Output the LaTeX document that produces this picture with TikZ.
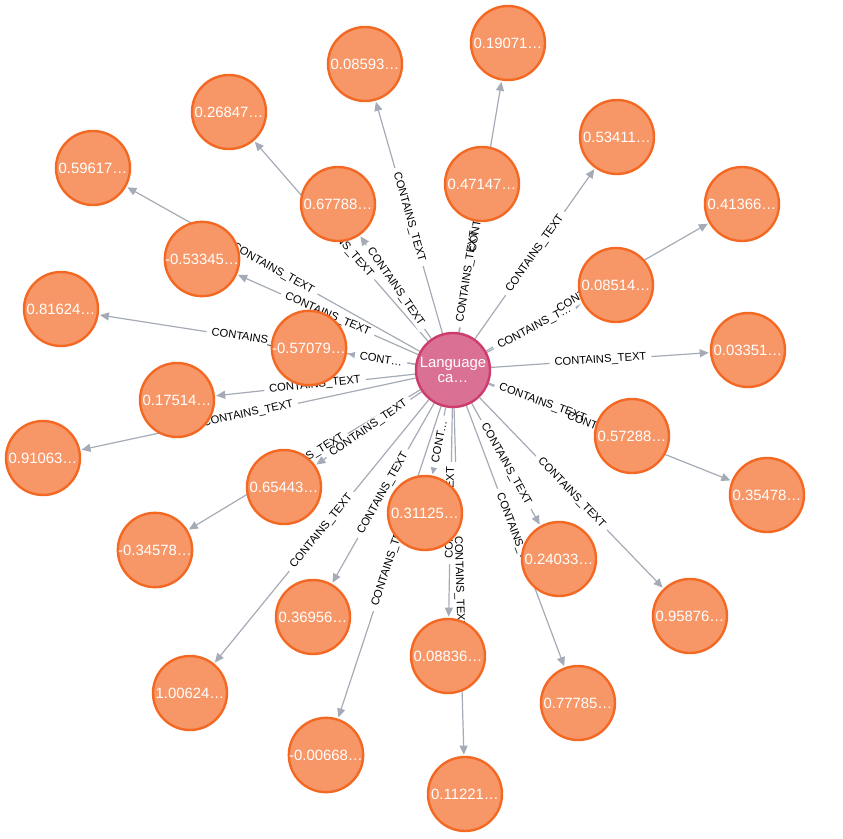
\documentclass[tikz,border=0pt]{standalone}
\usepackage{fontspec}
\setmainfont{Liberation Sans}
\usetikzlibrary{arrows.meta}

\definecolor{textfill}{HTML}{F79767}
\definecolor{textline}{HTML}{F36924}
\definecolor{catfill}{HTML}{DA7194}
\definecolor{catline}{HTML}{CC3C6C}
\definecolor{relline}{HTML}{A5ABB6}

\pgfdeclarelayer{edges}
\pgfsetlayers{edges,main}

\tikzset{
  textnode/.style={circle,fill=textfill,draw=textline,line width=2.4pt,
    minimum size=74pt,inner sep=0pt,text=white,
    font=\fontsize{14.9}{16}\selectfont},
  catnode/.style={textnode,fill=catfill,draw=catline,align=center,
    font=\fontsize{14.9}{15.5}\selectfont},
  rel/.style={relline,line width=1.2pt,->,shorten >=1.2pt},
  relgap/.style={midway,sloped,fill=white,inner xsep=5pt,
    inner ysep=1pt,font=\fontsize{11.2}{13}\selectfont},
  relcap/.style={midway,sloped,inner xsep=5pt,inner ysep=1pt,
    font=\fontsize{11.2}{13}\selectfont},
}

% captions of the connectors, by target node
\def\rellist{
  1/CONTAINS\_TEXT, 2/CONTAINS\_TEXT, 3/CONTAINS\_TEXT,
  4/CONTAINS\_TEXT, 5/CONTAINS\_TEXT, 6/CONTAINS\_TEXT,
  7/CONTAINS\_TEXT, 8/CONTAINS\_TEXT, 9/CONTAINS\_TEXT,
  10/CONTAINS\_T…, 11/CONTAINS\_TEXT, 12/CONT…,
  13/CONTAINS\_TEXT, 14/CONTAINS\_TEXT, 15/CONTAINS\_TEXT,
  16/CONTAINS\_TEXT, 17/CONTAINS\_TEXT, 18/CONTAINS\_TEXT,
  19/CONT…, 20/CONTAINS\_TEXT, 21/CONTAINS\_TEXT,
  22/CONTAINS\_TEXT, 23/CONTAINS\_TEXT, 24/CONTAINS\_TEXT,
  25/CONTAINS\_TEXT, 26/CONTAINS\_TEXT, 27/CONTAINS\_TEXT,
  28/CONTAINS\_TEXT}

\begin{document}
\begin{tikzpicture}[x=1pt,y=-1pt,>={Triangle[length=9pt,width=8pt]},
  line cap=round,line join=round]

  \useasboundingbox (0,0) rectangle (843,838);

  % centre node
  \node[catnode] (lang) at (453,370) {Language\\ca…};

  % text nodes
  \foreach \id/\x/\y/\val in {
      1/365/64/0.08593, 2/508/43/0.19071, 3/229/112/0.26847,
      4/617/137/0.53411, 5/93/168/0.59617, 6/338/204/0.67788,
      7/482/184/0.47147, 8/742/204/0.41366, 9/202/259/-0.53345,
      10/616/285/0.08514, 11/61/309/0.81624, 12/309/348/-0.57079,
      13/748/350/0.03351, 14/177/400/0.17514, 15/632/436/0.57288,
      16/43/458/0.91063, 17/767/495/0.35478, 18/284/487/0.65443,
      19/425/513/0.31125, 20/155/550/-0.34578, 21/559/559/0.24033,
      22/690/616/0.95876, 23/313/617/0.36956, 24/448/656/0.08836,
      25/190/693/1.00624, 26/578/703/0.77785, 27/326/755/-0.00668,
      28/465/794/0.11221}
    \node[textnode] (n\id) at (\x,\y) {\val…};

  \begin{pgfonlayer}{edges}
    % connectors
    \foreach \id in {1,...,28}
      \draw[rel] (lang) -- (n\id);

    % white gaps in the lines, then the captions on top of them
    \foreach \id/\cap in \rellist
      \path (lang) -- (n\id) node[relgap] {\phantom{\cap}};
    \foreach \id/\cap in \rellist
      \path (lang) -- (n\id) node[relcap] {\cap};
  \end{pgfonlayer}
\end{tikzpicture}
\end{document}
